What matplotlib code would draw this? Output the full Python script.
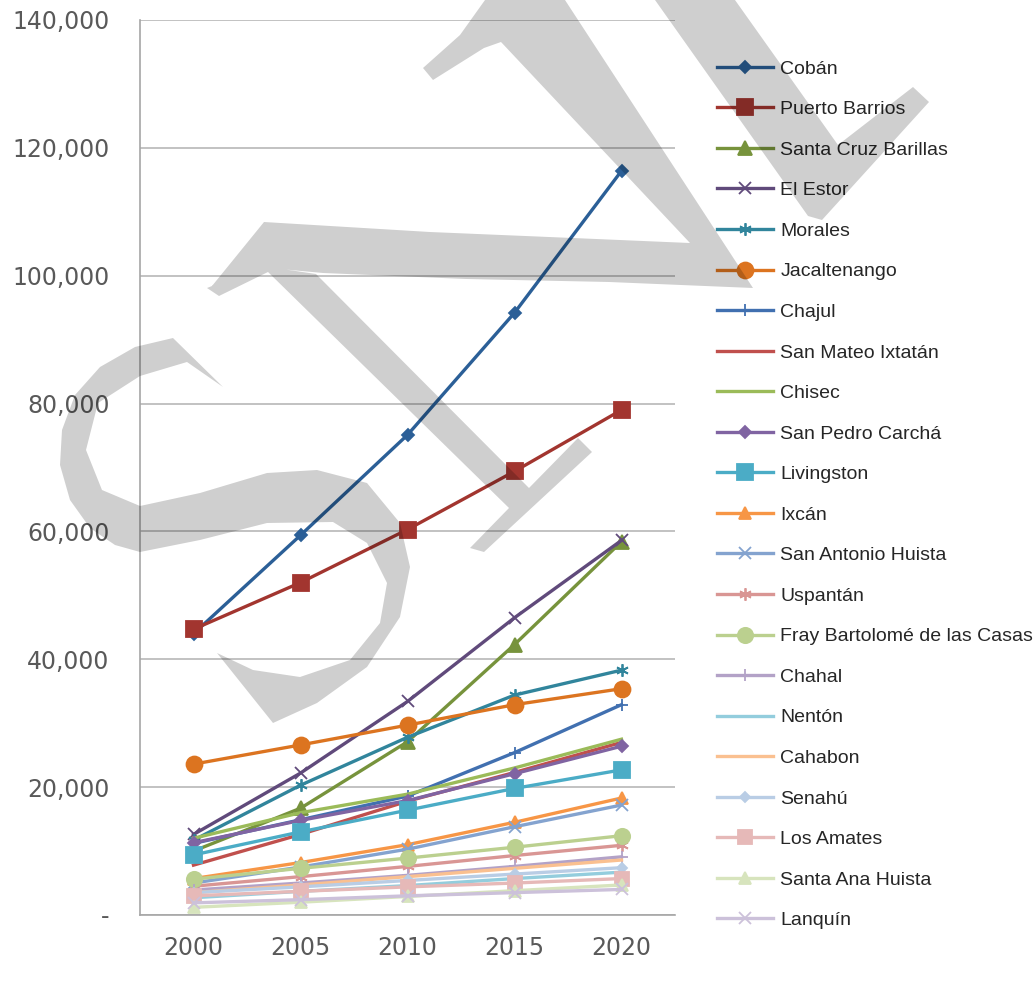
# population projection by municipality, 2000-2020

import matplotlib.pyplot as plt
from matplotlib.path import Path
from matplotlib.patches import PathPatch
from matplotlib.font_manager import FontProperties

years = ['2000', '2005', '2010', '2015', '2020']

names = ['Cobán', 'Puerto Barrios', 'Santa Cruz Barillas', 'El Estor', 'Morales',
         'Jacaltenango', 'Chajul', 'San Mateo Ixtatán', 'Chisec', 'San Pedro Carchá',
         'Livingston', 'Ixcán', 'San Antonio Huista', 'Uspantán',
         'Fray Bartolomé de las Casas', 'Chahal', 'Nentón', 'Cahabon', 'Senahú',
         'Los Amates', 'Santa Ana Huista', 'Lanquín']

coban = [44000, 59400, 75100, 94200, 116400]
puerto_barrios = [44700, 52000, 60300, 69400, 79000]
santa_cruz_barillas = [10000, 16700, 27100, 42300, 58400]
el_estor = [12600, 22200, 33400, 46500, 58600]
morales = [11700, 20300, 27800, 34400, 38300]
jacaltenango = [23600, 26600, 29700, 32900, 35400]
chajul = [11200, 14900, 18600, 25400, 32900]
san_mateo = [7800, 12600, 17800, 22300, 27000]
chisec = [12000, 16000, 18900, 23000, 27500]
san_pedro = [11300, 14800, 17900, 22100, 26400]
livingston = [9400, 13000, 16400, 19800, 22700]
ixcan = [5700, 8200, 11000, 14500, 18300]
san_antonio = [5000, 7500, 10300, 13800, 17200]
uspantan = [4500, 6000, 7600, 9300, 10900]
fray_bartolome = [5600, 7300, 8900, 10600, 12400]
chahal = [3900, 5000, 6200, 7600, 9100]
nenton = [2700, 3700, 4600, 5700, 6700]
cahabon = [3500, 4700, 6000, 7300, 8600]
senahu = [3500, 4400, 5400, 6400, 7400]
los_amates = [3000, 3700, 4400, 5000, 5700]
santa_ana = [1200, 2000, 2900, 3800, 4700]
lanquin = [1900, 2400, 3000, 3500, 4000]

series = [coban, puerto_barrios, santa_cruz_barillas, el_estor, morales,
          jacaltenango, chajul, san_mateo, chisec, san_pedro, livingston, ixcan,
          san_antonio, uspantan, fray_bartolome, chahal, nenton, cahabon, senahu,
          los_amates, santa_ana, lanquin]

colors = ['#2B5F97', '#A2352F', '#77933C', '#604A7B', '#31859C', '#DC7420',
          '#4170B0', '#C0504D', '#9BBB59', '#8064A2', '#4BACC6', '#F79646',
          '#84A3CF', '#D99694', '#BBD08F', '#B3A2C7', '#93CDDD', '#FAC090',
          '#B9CDE5', '#E6B9B8', '#D7E4BD', '#CCC1DA']

# excel-like marker cycle: diamond, square, triangle, x, star, circle, plus, none, none
asterisk = (6, 2, 0)
markers = ['D', 's', '^', 'x', asterisk, 'o', '+', None, None,
           'D', 's', '^', 'x', asterisk, 'o', '+', None, None,
           'D', 's', '^', 'x']
sizes = [6.5, 12, 10, 8, 9, 11.5, 9, 0, 0,
         6.5, 11, 9, 8, 9, 11, 9, 0, 0,
         5.5, 10, 9, 8]

fig = plt.figure(figsize=(10.34, 9.83), dpi=100)
ax = fig.add_axes([140 / 1034, 68 / 983, 535 / 1034, 895 / 983])

x = list(range(len(years)))
for vals, name, col, mk, ms in zip(series, names, colors, markers, sizes):
    ax.plot(x, vals, color=col, lw=2.4, marker=mk, markersize=ms,
            markeredgewidth=1.3, label=name)

ax.set_xlim(-0.5, 4.5)
ax.set_ylim(0, 140000)
ax.set_xticks(x)
ax.set_xticklabels(years)
yt = list(range(0, 140001, 20000))
ax.set_yticks(yt)
ax.set_yticklabels(['-'] + ['{:,}'.format(v) for v in yt[1:]])
ax.yaxis.grid(True, color='#BDBDBD', lw=1.3)
ax.set_axisbelow(True)
for s in ['top', 'right']:
    ax.spines[s].set_visible(False)
for s in ['left', 'bottom']:
    ax.spines[s].set_color('#A6A6A6')
    ax.spines[s].set_linewidth(1.2)
ax.tick_params(axis='both', length=0, labelsize=17, labelcolor='#595959')
ax.tick_params(axis='y', pad=22)
ax.tick_params(axis='x', pad=15)

handles, labels = ax.get_legend_handles_labels()
fig.legend(handles, labels, loc='upper left',
           bbox_to_anchor=(717 / 1034, 1 - 60 / 983), frameon=False,
           prop=FontProperties(family='Liberation Sans', size=14),
           handlelength=2.9, handletextpad=0.35, labelspacing=1.18,
           borderpad=0, borderaxespad=0, labelcolor='#262626')

# gray watermark drawn over the chart in pixel coordinates
wm = fig.add_axes([0, 0, 1, 1], zorder=6)
wm.set_xlim(0, 1034)
wm.set_ylim(983, 0)
wm.axis('off')
wm.patch.set_alpha(0)

shapes = [
    [(173, 338), (135, 347), (100, 367), (75, 395), (62, 430), (60, 465), (70, 500),
     (90, 528), (115, 545), (140, 552), (200, 540), (267, 523), (333, 522), (367, 543),
     (387, 583), (380, 623), (350, 660), (300, 677), (253, 670), (217, 653), (273, 723),
     (317, 703), (367, 667), (400, 617), (410, 567), (400, 523), (367, 483), (317, 470),
     (267, 473), (200, 493), (140, 506), (102, 490), (86, 450), (98, 403), (140, 376),
     (187, 362), (223, 387)],
    [(423, 68), (460, 35), (485, 0), (565, 0), (753, 288), (690, 243), (501, 42),
     (484, 48), (433, 80)],
    [(212, 286), (264, 222), (430, 232), (573, 238), (690, 243), (753, 288), (609, 282),
     (466, 279), (323, 273), (269, 268), (219, 295)],
    [(207, 288), (262, 266), (316, 274), (529, 488), (578, 438), (592, 452), (484, 552),
     (470, 548), (509, 508), (268, 272), (219, 296)],
    [(655, 0), (735, 0), (838, 145), (913, 87), (929, 102), (822, 220), (808, 216)],
]

verts, codes = [], []
for pts in shapes:
    area = sum(pts[i][0] * pts[i - 1][1] - pts[i - 1][0] * pts[i][1] for i in range(len(pts)))
    if area < 0:
        pts = pts[::-1]
    verts += pts + [pts[0]]
    codes += [Path.MOVETO] + [Path.LINETO] * (len(pts) - 1) + [Path.CLOSEPOLY]
wm.add_patch(PathPatch(Path(verts, codes), facecolor=(0, 0, 0, 0.19), edgecolor='none'))

fig.savefig('out.png', dpi=100)
